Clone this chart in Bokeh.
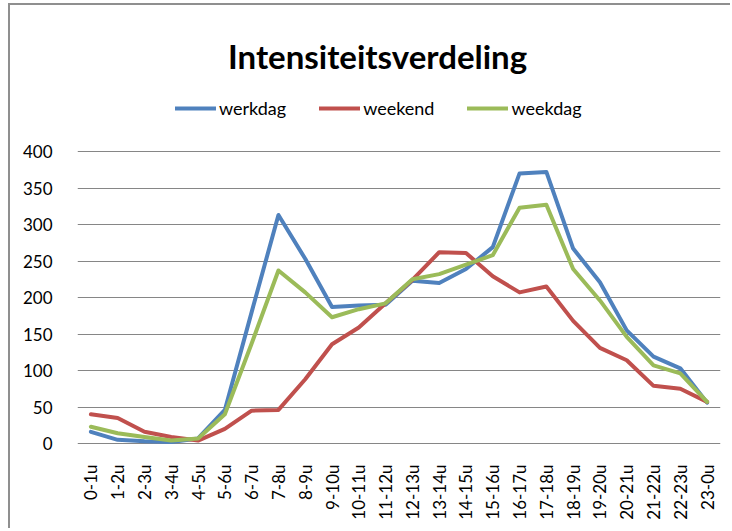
from bokeh.plotting import figure
from bokeh.layouts import column
from bokeh.models import Legend, LegendItem, Label, FactorRange, Range1d, FixedTicker
from bokeh.embed import file_html
from bokeh.resources import INLINE
import math

hours = ["0-1u", "1-2u", "2-3u", "3-4u", "4-5u", "5-6u", "6-7u", "7-8u", "8-9u",
         "9-10u", "10-11u", "11-12u", "12-13u", "13-14u", "14-15u", "15-16u",
         "16-17u", "17-18u", "18-19u", "19-20u", "20-21u", "21-22u", "22-23u", "23-0u"]
werkdag = [16, 5, 3, 2, 7, 46, 180, 313, 253, 187, 189, 190, 223, 220, 239, 269,
           370, 372, 267, 221, 155, 119, 103, 56]
weekend = [40, 35, 16, 9, 4, 20, 45, 46, 88, 136, 159, 192, 224, 262, 261, 229,
           207, 215, 168, 131, 114, 79, 75, 57]
weekdag = [23, 14, 9, 4, 7, 40, 137, 237, 207, 173, 184, 192, 225, 232, 245, 258,
           323, 327, 239, 196, 146, 107, 96, 57]
y_ticks = [0, 50, 100, 150, 200, 250, 300, 350, 400]
series_names = ["werkdag", "weekend", "weekdag"]
colors = ["#4F81BD", "#C0504D", "#9BBB59"]
title_text = "Intensiteitsverdeling"

FONT = "Lato"

# frame extends up to the top of the chart so that title and legend live inside it
p = figure(x_range=FactorRange(*hours, range_padding=0), y_range=Range1d(-4.1, 600.0),
           width=720, height=523, min_border_left=67, min_border_right=10,
           min_border_top=0, min_border_bottom=82,
           output_backend="svg", toolbar_location=None)

p.outline_line_color = None
p.background_fill_color = "white"
p.border_fill_color = "white"
p.xgrid.visible = False
p.ygrid.grid_line_color = "#868686"
p.ygrid.grid_line_width = 1

p.yaxis.ticker = FixedTicker(ticks=y_ticks)
p.yaxis.axis_line_color = None
p.yaxis.major_tick_line_color = None
p.yaxis.minor_tick_line_color = None
p.yaxis.major_label_standoff = 19
p.yaxis.major_label_text_font = FONT
p.yaxis.major_label_text_font_size = "17px"
p.yaxis.major_label_text_color = "black"

p.xaxis.axis_line_color = None
p.xaxis.major_tick_line_color = None
p.xaxis.minor_tick_line_color = None
p.xaxis.major_label_orientation = math.pi / 2
p.xaxis.major_label_standoff = 12
p.xaxis.major_label_text_font = FONT
p.xaxis.major_label_text_font_size = "17px"
p.xaxis.major_label_text_color = "black"

renderers = []
for name, vals, col in zip(series_names, [werkdag, weekend, weekdag], colors):
    r = p.line(x=hours, y=vals, line_color=col, line_width=4,
               line_join="round", line_cap="round")
    renderers.append(r)

legend = Legend(items=[LegendItem(label=n, renderers=[r]) for n, r in zip(series_names, renderers)],
                orientation="horizontal", location=(98, 327),
                glyph_width=41, glyph_height=20, label_height=20, label_standoff=3,
                spacing=33, padding=0, margin=0, border_line_color=None,
                background_fill_alpha=0, label_text_font=FONT,
                label_text_font_size="18px", label_text_color="black")
p.add_layout(legend, "center")

title = Label(x=11.2, y=531.5, text=title_text, text_align="center",
              text_baseline="alphabetic", text_font=FONT, text_font_style="bold",
              text_font_size="33px", text_color="black")
p.add_layout(title)

layout = column(p, styles={"border-left": "2px solid #8f8f8f",
                           "border-top": "2px solid #8f8f8f",
                           "margin-left": "8px", "margin-top": "3px"})

open("out.html", "w").write(file_html(layout, INLINE))
